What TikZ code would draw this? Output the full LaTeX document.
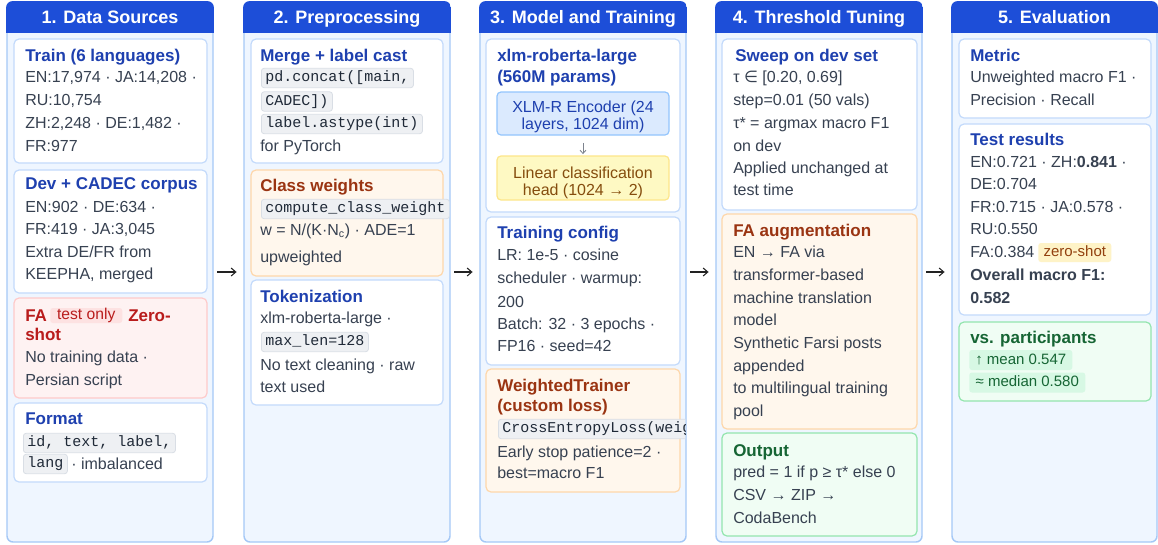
\documentclass[tikz,border=0pt]{standalone}
\usepackage{fontspec}
\setmainfont{Liberation Sans}
\setmonofont{Liberation Mono}
\newfontfamily\dejavu{DejaVu Sans}
\usetikzlibrary{fit,arrows.meta}
\definecolor{hdrblue}{HTML}{1D4ED8}
\definecolor{colbg}{HTML}{EFF6FF}
\definecolor{colborder}{HTML}{A5C8F6}
\definecolor{cardborder}{HTML}{C3DAFB}
\definecolor{bodyc}{HTML}{374151}
\definecolor{titleblue}{HTML}{1E40AF}
\definecolor{redbg}{HTML}{FEF2F2}
\definecolor{redborder}{HTML}{FECACA}
\definecolor{redtxt}{HTML}{B91C1C}
\definecolor{redbadge}{HTML}{FDE2E2}
\definecolor{orbg}{HTML}{FFF7ED}
\definecolor{orborder}{HTML}{FED7AA}
\definecolor{ortxt}{HTML}{9A3412}
\definecolor{grbg}{HTML}{F0FDF4}
\definecolor{grborder}{HTML}{93E5AE}
\definecolor{grtxt}{HTML}{166534}
\definecolor{grbadge}{HTML}{D7F8E4}
\definecolor{codebg}{HTML}{EEF0F3}
\definecolor{codeborder}{HTML}{D9DEE5}
\definecolor{codec}{HTML}{1F2937}
\definecolor{encbg}{HTML}{DBEAFE}
\definecolor{encborder}{HTML}{93C5FD}
\definecolor{headbg}{HTML}{FEF9C3}
\definecolor{headborder}{HTML}{FDE68A}
\definecolor{headtxt}{HTML}{854D0E}
\definecolor{amberbadge}{HTML}{FEF3C7}
\definecolor{ambertxt}{HTML}{92400E}
\definecolor{arrowc}{HTML}{222222}
\newcommand\bodyf{\fontsize{12}{14}\selectfont}
\newcommand\hdf{\fontsize{12.75}{15}\selectfont\bfseries}
\newcommand\ttlf{\fontsize{13.5}{16}\selectfont\bfseries}
\newcommand\codef{\fontsize{11.25}{13}\selectfont\ttfamily}
\newcommand\badgef{\fontsize{11.25}{13}\selectfont}
\begin{document}
\begin{tikzpicture}[x=0.75pt,y=-0.75pt,
  colbox/.style={draw=colborder, fill=colbg, line width=1.1pt, rounded corners=4.5pt, inner sep=0pt},
  card/.style={draw=cardborder, fill=white, line width=0.9pt, rounded corners=3.75pt, inner sep=0pt},
  cardR/.style={card, draw=redborder, fill=redbg},
  cardO/.style={card, draw=orborder, fill=orbg},
  cardG/.style={card, draw=grborder, fill=grbg},
  ttl/.style={anchor=base, inner sep=0pt, font=\ttlf, text=white},
  txt/.style={anchor=base west, inner sep=0pt, font=\bodyf, text=bodyc},
  hd/.style={anchor=base west, inner sep=0pt, font=\hdf, text=titleblue},
  hdR/.style={hd, text=redtxt},
  hdO/.style={hd, text=ortxt},
  hdG/.style={hd, text=grtxt},
  code/.style={anchor=west, inner xsep=3pt, inner ysep=0pt, minimum height=14.5pt, text height=8pt, text depth=2.5pt, fill=codebg, draw=codeborder, line width=0.6pt, rounded corners=2pt, font=\codef, text=codec},
  badge/.style={anchor=west, inner sep=0pt, rounded corners=2pt, font=\badgef, text height=8pt, text depth=2pt},
  conn/.style={draw=arrowc, line width=0.8pt, -{Straight Barb[length=3.5pt,width=6pt]}, shorten <=2.5pt, shorten >=5pt},
  darr/.style={draw=bodyc!65, line width=0.6pt, -{Straight Barb[length=2.5pt,width=4.5pt]}, shorten <=5.5pt, shorten >=1pt},
  innerbox/.style={line width=0.9pt, rounded corners=3pt, inner sep=0pt},
  innertxt/.style={inner sep=0pt, align=center, font=\fontsize{12}{12.75}\selectfont}
]
\useasboundingbox (0,0) rectangle (1158,544);

% columns
\node[colbox, fit={(7,2) (213,542)}] (col1) {};
\node[colbox, fit={(244,2) (450,542)}] (col2) {};
\node[colbox, fit={(480,2) (686,542)}] (col3) {};
\node[colbox, fit={(716,2) (922,542)}] (col4) {};
\node[colbox, fit={(952,2) (1157,542)}] (col5) {};
\foreach \a/\b in {7/213,244/450,480/686,716/922,952/1157}{
  \begin{scope}
    \clip[rounded corners=4.5pt] (\a-0.8,1.2) rectangle (\b+0.8,542.8);
    \fill[hdrblue] (\a-1,0) rectangle (\b+1,33);
  \end{scope}
}
\node[ttl] (t1) at (110,23.5) {1. Data Sources};
\node[ttl] (t2) at (347,23.5) {2. Preprocessing};
\node[ttl] (t3) at (583,23.5) {3. Model and Training};
\node[ttl] (t4) at (819,23.5) {4. Threshold Tuning};
\node[ttl] (t5) at (1054.5,23.5) {5. Evaluation};

% connectors between columns
\draw[conn] (col1.east) -- (col2.west);
\draw[conn] (col2.east) -- (col3.west);
\draw[conn] (col3.east) -- (col4.west);
\draw[conn] (col4.east) -- (col5.west);

% ---------- column 1 ----------
\node[card, fit={(14,39) (207,163)}] (c1a) {};
\node[card, fit={(14,170) (207,293)}] (c1b) {};
\node[cardR, fit={(14,298) (207,398)}] (c1c) {};
\node[card, fit={(14,403) (207,482)}] (c1d) {};
\node[hd] (c1a0) at (25,61) {Train (6 languages)};
\node[txt] (c1a1) at (25,82.5) {EN:17,974 · JA:14,208 ·};
\node[txt] (c1a2) at (25,105.5) {RU:10,754};
\node[txt] (c1a3) at (25,128.5) {ZH:2,248 · DE:1,482 ·};
\node[txt] (c1a4) at (25,151.5) {FR:977};
\node[hd] (c1b0) at (25,189) {Dev + CADEC corpus};
\node[txt] (c1b1) at (25,212.5) {EN:902 · DE:634 ·};
\node[txt] (c1b2) at (25,234.5) {FR:419 · JA:3,045};
\node[txt] (c1b3) at (25,257.5) {Extra DE/FR from};
\node[txt] (c1b4) at (25,279.5) {KEEPHA, merged};
\node[hdR] (c1c0) at (25,321) {FA};
\node[badge, fill=redbadge, text=redtxt, minimum width=54pt, minimum height=11.25pt, font=\fontsize{11.75}{13}\selectfont] (c1cb) at (50,315.5) {test only};
\node[hdR] (c1c1) at (128,321) {Zero-};
\node[hdR] (c1c2) at (25,340) {shot};
\node[txt] (c1c3) at (25,362.5) {No training data ·};
\node[txt] (c1c4) at (25,385.5) {Persian script};
\node[hd] (c1d0) at (25,424) {Format};
\node[code] (c1d1) at (23,443) {id, text, label,};
\node[code] (c1d2) at (23,464) {lang};
\node[txt] (c1d3) at (71,469.5) {· imbalanced};

% ---------- column 2 ----------
\node[card, fit={(251,39) (443,163)}] (c2a) {};
\node[cardO, fit={(251,170) (443,276)}] (c2b) {};
\node[card, fit={(251,280) (443,405)}] (c2c) {};
\node[hd] (c2a0) at (260,61) {Merge + label cast};
\node[code] (c2a1) at (261,78) {pd.concat([main,};
\node[code] (c2a2) at (261,101.5) {CADEC])};
\node[code] (c2a3) at (261,124) {label.astype(int)};
\node[txt] (c2a4) at (260,151.5) {for PyTorch};
\node[hdO] (c2b0) at (260,191) {Class weights};
\begin{scope}
  \clip (245,2) rectangle (449.4,542);
  \node[code] (c2b1) at (261,209) {compute\_class\_weight};
\end{scope}
\node[txt] (c2b2) at (260,235.5) {w = N/(K·N\textsubscript{c}) · ADE=1};
\node[txt] (c2b3) at (260,262.5) {upweighted};
\node[hd] (c2c0) at (260,302) {Tokenization};
\node[txt] (c2c1) at (260,323.5) {xlm-roberta-large ·};
\node[code] (c2c2) at (261,342) {max\_len=128};
\node[txt] (c2c3) at (260,370.5) {No text cleaning · raw};
\node[txt] (c2c4) at (260,392.5) {text used};

% ---------- column 3 ----------
\node[card, fit={(486,39) (680,212)}] (c3a) {};
\node[card, fit={(486,217) (680,365)}] (c3b) {};
\node[cardO, fit={(486,369) (680,492)}] (c3c) {};
\node[hd] (c3a0) at (497,61) {xlm-roberta-large};
\node[hd] (c3a1) at (497,82) {(560M params)};
\node[innerbox, draw=encborder, fill=encbg, fit={(497,92) (669,135)}] (enc) {};
\node[innertxt, text=titleblue] (enctxt) at (583,116.5) {XLM-R Encoder (24\\layers, 1024 dim)};
\node[innerbox, draw=headborder, fill=headbg, fit={(497,156) (669,200)}] (head) {};
\node[innertxt, text=headtxt] (headtxt) at (583,182.5) {Linear classification\\head (1024 → 2)};
\draw[darr] (enc) -- (head);
\node[hd] (c3b0) at (497,238) {Training config};
\node[txt] (c3b1) at (497,260.5) {LR: 1e-5 · cosine};
\node[txt] (c3b2) at (497,283.5) {scheduler · warmup:};
\node[txt] (c3b3) at (497,307.5) {200};
\node[txt] (c3b4) at (497,329.5) {Batch: 32 · 3 epochs ·};
\node[txt] (c3b5) at (497,351.5) {FP16 · seed=42};
\node[hdO] (c3c0) at (497,391) {WeightedTrainer};
\node[hdO] (c3c1) at (497,411) {(custom loss)};
\begin{scope}
  \clip (481,2) rectangle (685.4,542);
  \node[code] (c3c2) at (498,429) {CrossEntropyLoss(weight=w)};
\end{scope}
\node[txt] (c3c3) at (497,457.5) {Early stop patience=2 ·};
\node[txt] (c3c4) at (497,478.5) {best=macro F1};

% ---------- column 4 ----------
\node[card, fit={(722,39) (917,210)}] (c4a) {};
\node[cardO, fit={(722,214) (917,429)}] (c4b) {};
\node[cardG, fit={(722,433) (917,536)}] (c4c) {};
\node[hd] (c4a0) at (735,61) {Sweep on dev set};
\node[txt] (c4a1) at (733,82.5) {τ {\dejavu ∈} [0.20, 0.69]};
\node[txt] (c4a2) at (733,105.5) {step=0.01 (50 vals)};
\node[txt] (c4a3) at (733,128.5) {τ* = argmax macro F1};
\node[txt] (c4a4) at (733,151.5) {on dev};
\node[txt] (c4a5) at (733,173.5) {Applied unchanged at};
\node[txt] (c4a6) at (733,195.5) {test time};
\node[hdO] (c4b0) at (733,236) {FA augmentation};
\node[txt] (c4b1) at (733,257.5) {EN → FA via};
\node[txt] (c4b2) at (733,280.5) {transformer-based};
\node[txt] (c4b3) at (733,303.5) {machine translation};
\node[txt] (c4b4) at (733,325.5) {model};
\node[txt] (c4b5) at (733,348.5) {Synthetic Farsi posts};
\node[txt] (c4b6) at (733,371.5) {appended};
\node[txt] (c4b7) at (733,393.5) {to multilingual training};
\node[txt] (c4b8) at (733,416.5) {pool};
\node[hdG] (c4c0) at (733,456) {Output};
\node[txt] (c4c1) at (733,477.5) {pred = 1 if p ≥ τ* else 0};
\node[txt] (c4c2) at (733,500.5) {CSV → ZIP →};
\node[txt] (c4c3) at (733,523.5) {CodaBench};

% ---------- column 5 ----------
\node[card, fit={(959,39) (1151,118)}] (c5a) {};
\node[card, fit={(959,124) (1151,315)}] (c5b) {};
\node[cardG, fit={(959,322) (1151,401)}] (c5c) {};
\node[hd] (c5a0) at (970,61) {Metric};
\node[txt] (c5a1) at (970,82.5) {Unweighted macro F1 ·};
\node[txt] (c5a2) at (970,105.5) {Precision · Recall};
\node[hd] (c5b0) at (970,145) {Test results};
\node[txt] (c5b1) at (970,167.5) {EN:0.721 · ZH:\textbf{0.841} ·};
\node[txt] (c5b2) at (970,189.5) {DE:0.704};
\node[txt] (c5b3) at (970,212.5) {FR:0.715 · JA:0.578 ·};
\node[txt] (c5b4) at (970,234.5) {RU:0.550};
\node[txt] (c5b5) at (970,257.5) {FA:0.384};
\node[badge, fill=amberbadge, text=ambertxt, minimum width=54.75pt, minimum height=14.25pt] (c5bz) at (1038,252.5) {zero-shot};
\node[txt, font=\bodyf\bfseries] (c5b6) at (970,280.5) {Overall macro F1:};
\node[txt, font=\bodyf\bfseries] (c5b7) at (970,303.5) {0.582};
\node[hdG] (c5c0) at (970,343) {vs. participants};
\node[badge, fill=grbadge, text=grtxt, minimum width=77.25pt, minimum height=15pt] (c5c1) at (969,360) {↑ mean 0.547};
\node[badge, fill=grbadge, text=grtxt, minimum width=87pt, minimum height=15pt] (c5c2) at (969,382.5) {≈ median 0.580};
\end{tikzpicture}
\end{document}
